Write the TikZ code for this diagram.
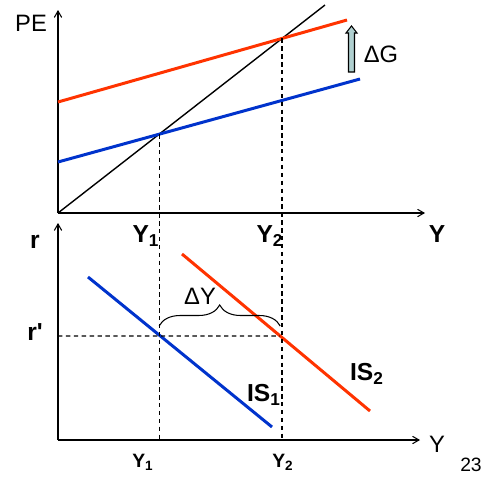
\documentclass[tikz,border=0pt]{standalone}
\usepackage{fontspec}
\setmainfont{Liberation Sans}
\usetikzlibrary{arrows,decorations.pathreplacing}
\definecolor{isred}{RGB}{255,51,0}
\definecolor{isblue}{RGB}{0,51,204}
\definecolor{gfill}{RGB}{176,208,208}

\begin{document}
\begin{tikzpicture}[x=0.02cm,y=-0.02cm,>=angle 60,
  every node/.style={font=\fontsize{13.5}{15}\selectfont,inner sep=1pt},
  axis/.style={->,line width=0.6pt},
  curve/.style={line width=1.7pt},
  guide/.style={dash pattern=on 2.5pt off 2pt,line width=0.7pt},
  bold/.style={font=\fontsize{14}{16}\selectfont\bfseries},
  small/.style={font=\fontsize{11}{13}\selectfont\bfseries}]
 \useasboundingbox (0,0) rectangle (495,501);
 % top panel: planned expenditure
 \coordinate (O1) at (58,213);
 \coordinate (petop) at (58,10);
 \coordinate (yend) at (425,213);
 \coordinate (ad) at (325,5);
 \coordinate (pe1a) at (58,162);
 \coordinate (pe1b) at (360,79);
 \coordinate (pe2a) at (58,102);
 \coordinate (pe2b) at (347,20);
 \draw[axis] (O1)--(petop);
 \draw[axis] (O1)--(yend);
 \draw[line width=0.8pt] (O1)--(ad);
 \draw[curve,isblue] (pe1a)--(pe1b);
 \draw[curve,isred] (pe2a)--(pe2b);
 \coordinate (E1) at (intersection of O1--ad and pe1a--pe1b);
 \coordinate (E2) at (intersection of O1--ad and pe2a--pe2b);
 \node (pe) at (31,23) {PE};
 \node[bold] (y1top) at (146,236) {Y\textsubscript{1}};
 \node[bold] (y2top) at (270,236) {Y\textsubscript{2}};
 \node[bold] (ytop) at (437,234) {Y};
 \fill[gfill,draw=black,line width=0.6pt] (348.5,72) -- (348.5,33) -- (346,33) -- (351.5,26)
   -- (357,33) -- (354.5,33) -- (354.5,72) -- cycle;
 \node (dg) at (381,54) {ΔG};
 % bottom panel: IS curves
 \coordinate (O2) at (58,440);
 \coordinate (rtop) at (58,223);
 \coordinate (yend2) at (420,440);
 \coordinate (is1a) at (88,277);
 \coordinate (is1b) at (272,427);
 \coordinate (is2a) at (182,254);
 \coordinate (is2b) at (370,411);
 \coordinate (rp) at (58,336);
 \coordinate (rpend) at (400,336);
 \draw[axis] (O2)--(rtop);
 \draw[axis] (O2)--(yend2);
 \draw[curve,isblue] (is1a)--(is1b);
 \draw[curve,isred] (is2a)--(is2b);
 \coordinate (F2) at (intersection of is2a--is2b and rp--rpend);
 \draw[guide] (E1)--(E1 |- O2);
 \draw[guide] (E2)--(E2 |- O2);
 \draw[guide] (rp)--(F2);
 \draw[decorate,decoration={brace,amplitude=0.42cm},line width=0.6pt]
   (E1 |- 0,326) -- (F2 |- 0,326);
 \node (dy) at (200,296) {ΔY};
 \node[bold] (r) at (35,242) {r};
 \node[bold] (rprime) at (35,332) {r\textquotesingle};
 \node[bold] (is1) at (264,395) {IS\textsubscript{1}};
 \node[bold] (is2) at (367,374) {IS\textsubscript{2}};
 \node (ybot) at (437,444) {Y};
 \node[small] (y1bot) at (143,462) {Y\textsubscript{1}};
 \node[small] (y2bot) at (283,462) {Y\textsubscript{2}};
 \node[font=\fontsize{11}{13}\selectfont] (pg) at (471,465) {23};
\end{tikzpicture}
\end{document}
